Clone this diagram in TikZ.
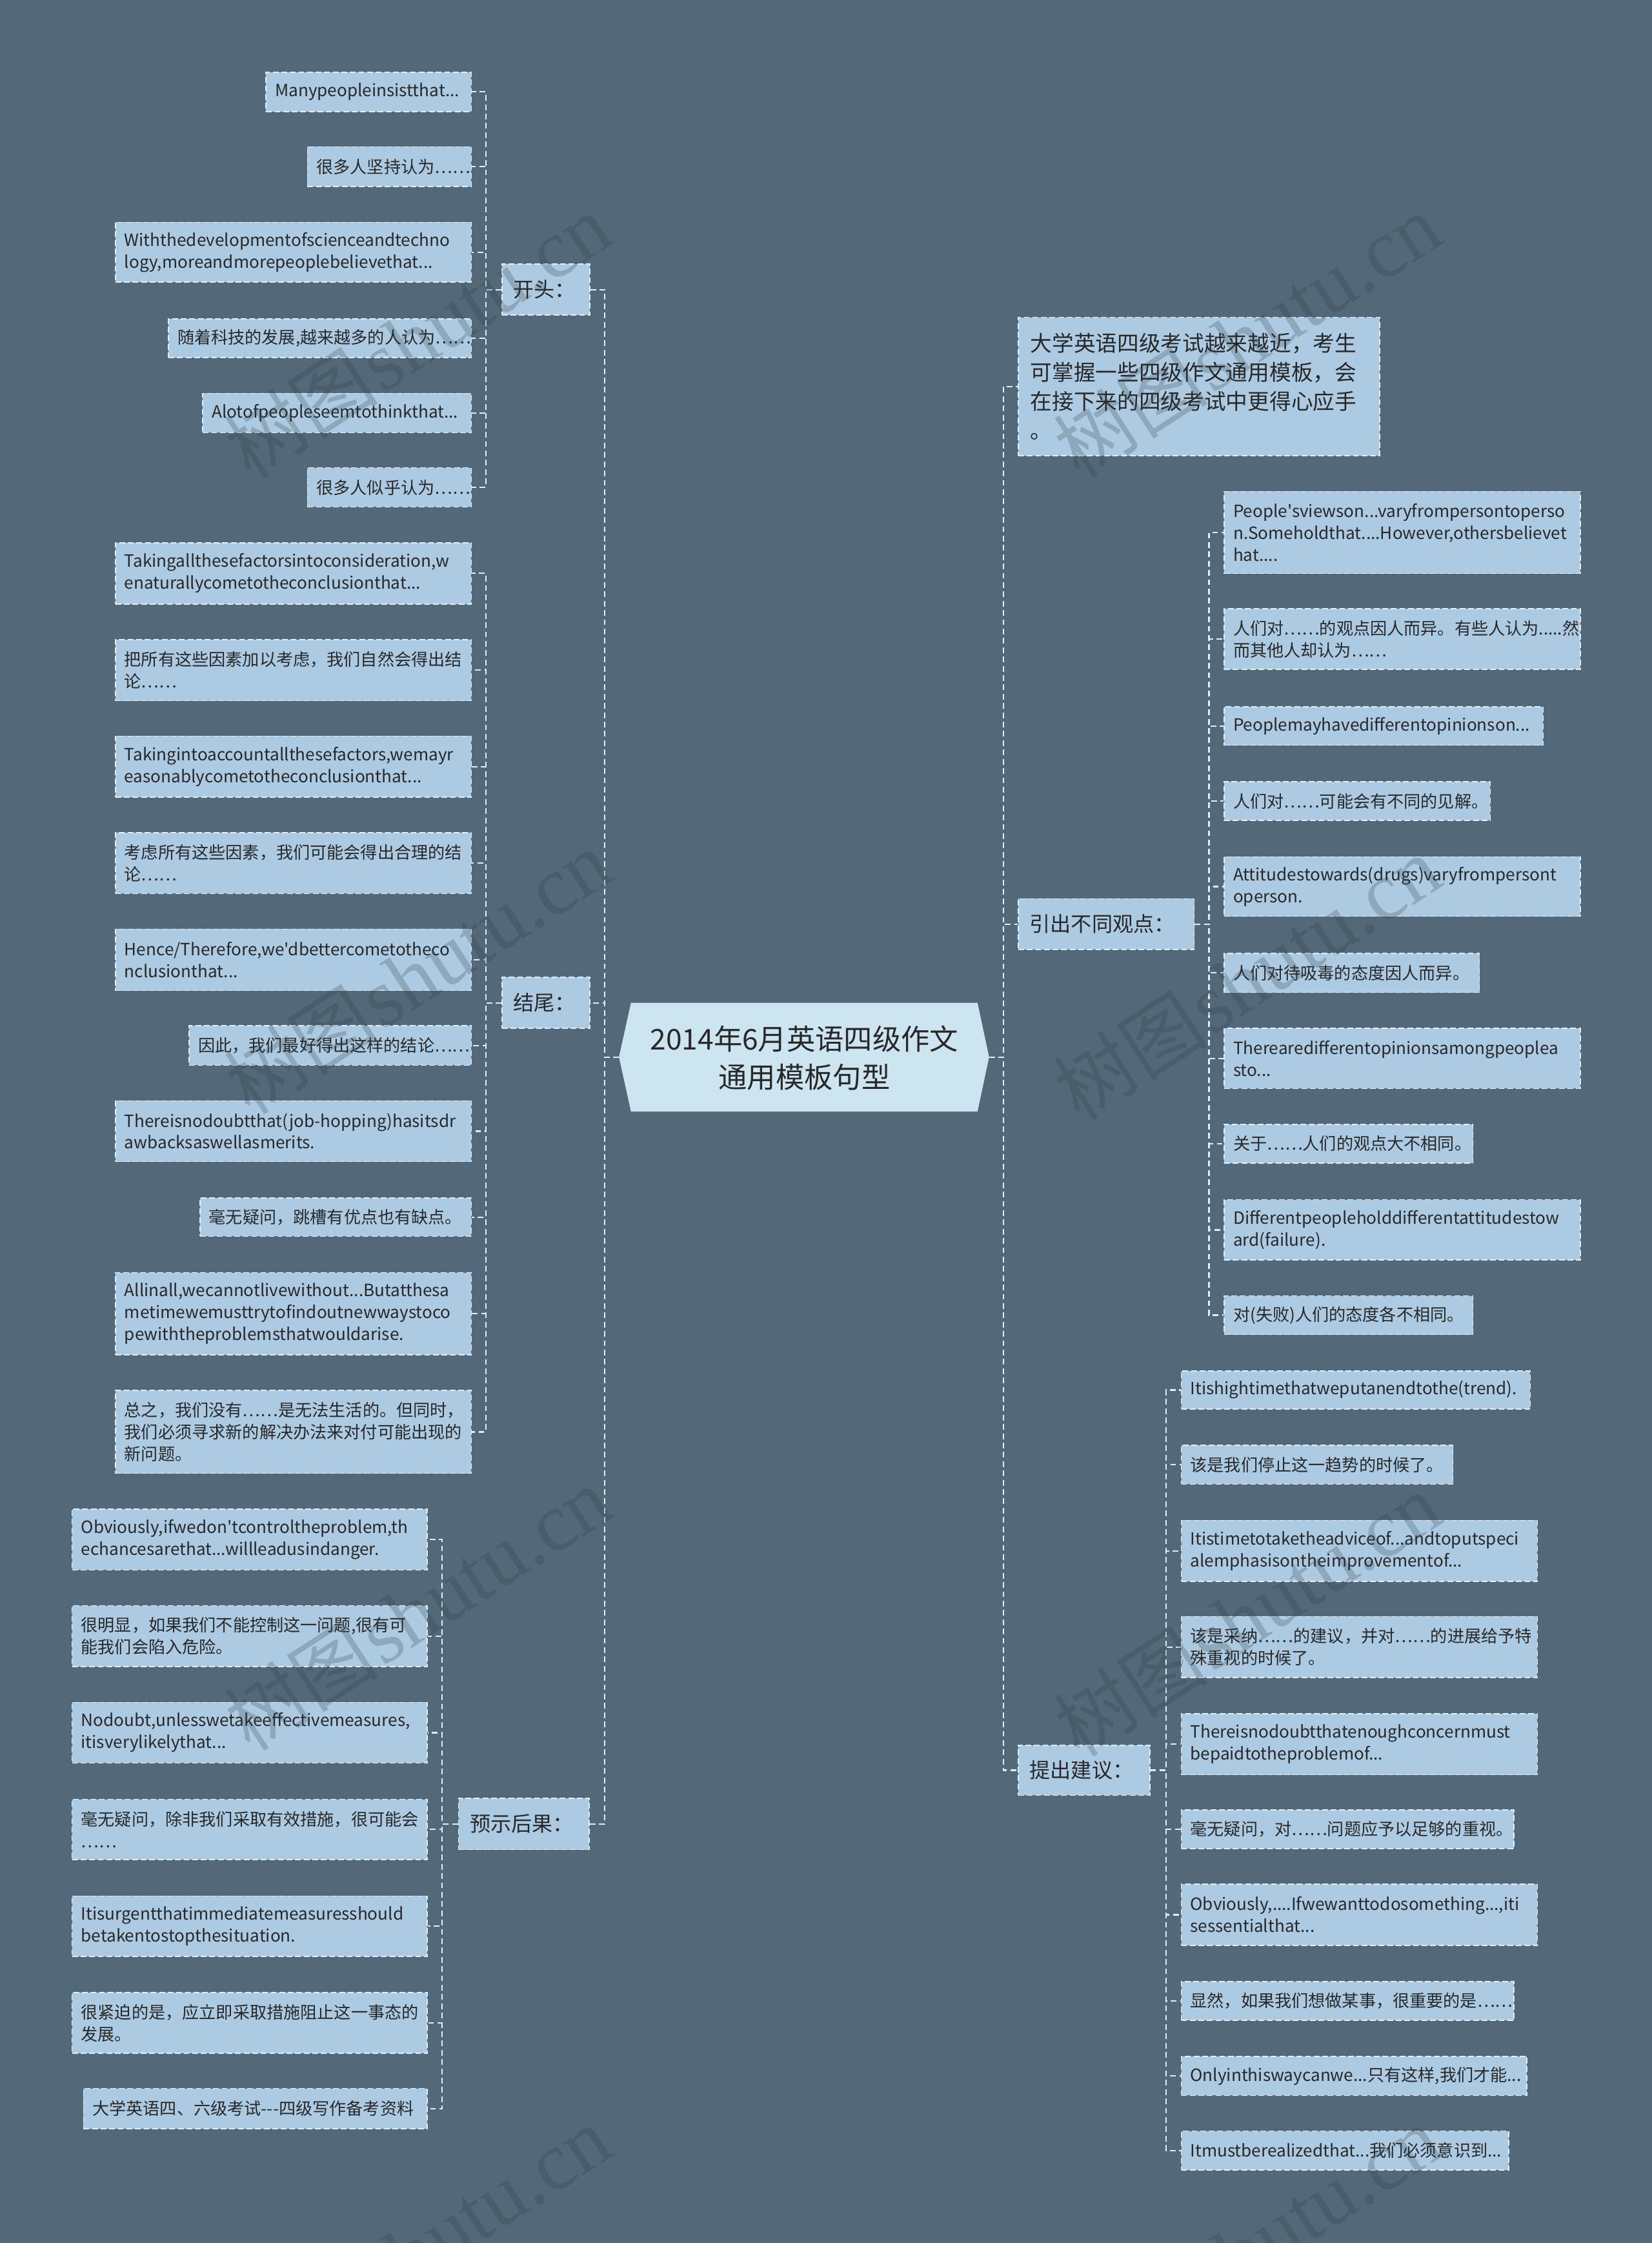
\documentclass[tikz,border=0pt]{standalone}
\usepackage{fontspec}
\setmainfont{Noto Sans CJK SC}[Ligatures=TeXOff]
\newfontfamily\wmlat{Liberation Serif}
\newfontfamily\wmcjk{Noto Sans CJK SC}
\definecolor{bg}{RGB}{83,104,120}
\definecolor{lf}{RGB}{172,203,226}
\definecolor{ctr}{RGB}{205,229,241}
\definecolor{bd}{RGB}{225,238,245}
\definecolor{tx}{RGB}{40,40,40}
\definecolor{wm}{RGB}{50,62,72}
\hyphenpenalty=10000
\exhyphenpenalty=10000
\tikzset{
  leaf/.style={draw=bd, fill=lf, line width=0.7pt, dash pattern=on 4pt off 2pt,
    inner ysep=0pt, align=left, text=tx, font=\fontsize{11.8}{15.3}\selectfont},
  branch/.style={leaf, font=\fontsize{14.5}{18}\selectfont},
  intro/.style={leaf, font=\fontsize{15.2}{20.3}\selectfont},
  conn/.style={draw=bd, line width=1pt, dash pattern=on 4pt off 2.5pt},
  wmark/.style={text=wm, opacity=0.25, rotate=33, inner sep=0pt},
}
% style, pad, name, x1, x2, y1, y2, text
\newcommand\bx[8]{%
  \pgfmathsetmacro\bxW{#5-#4}\pgfmathsetmacro\bxT{#5-#4-2*#2}%
  \pgfmathsetmacro\bxH{#7-#6}\pgfmathsetmacro\bxX{(#4+#5)/2}\pgfmathsetmacro\bxY{(#6+#7)/2}%
  \node[#1, inner xsep=#2pt, minimum width=\bxW pt, minimum height=\bxH pt, text width=\bxT pt] (#3) at (\bxX,\bxY) {#8};}
\begin{document}
\begin{tikzpicture}[x=1pt,y=-1pt]
\useasboundingbox (0,0) rectangle (1155,1568);
\fill[bg] (0,0) rectangle (1155,1568);

% root
\fill[ctr] (441.2,701) -- (683.5,701) -- (691.6,739) -- (683.5,777) -- (441.2,777) -- (432.8,739) -- cycle;
\node[font=\fontsize{20}{26.5}\selectfont, text=tx, align=center] (root) at (562.4,739.5) {2014年6月英语四级作文\\通用模板句型};
\coordinate (rootW) at (432.8,739);
\coordinate (rootE) at (691.6,739);

% branches
\bx{branch}{8}{kt}{351}{412.5}{184.6}{220.3}{开头：}
\bx{branch}{8}{jw}{351}{412.5}{683.2}{718.9}{结尾：}
\bx{branch}{8}{ys}{320.6}{412}{1257}{1293}{预示后果：}
\bx{branch}{8}{yc}{712}{835}{628.3}{663.7}{引出不同观点：}
\bx{branch}{8}{jy}{712}{804}{1220}{1255}{提出建议：}
\bx{intro}{8.5}{intro}{712}{964.6}{221.8}{318.5}{大学英语四级考试越来越近，考生\\可掌握一些四级作文通用模板，会\\在接下来的四级考试中更得心应手\\。}

% 开头
\bx{leaf}{6.3}{k1}{186}{329.6}{50.5}{78}{Manypeopleinsistthat...}
\bx{leaf}{6.3}{k2}{215}{329.6}{102.6}{130.3}{很多人坚持认为……}
\bx{leaf}{6.3}{k3}{80.7}{329.6}{155.4}{197.3}{Withthedevelopmentofscienceandtechno\\logy,moreandmorepeoplebelievethat...}
\bx{leaf}{6.3}{k4}{117.8}{329.6}{223}{250}{随着科技的发展,越来越多的人认为……}
\bx{leaf}{6.3}{k5}{141.8}{329.6}{275}{302.5}{Alotofpeopleseemtothinkthat...}
\bx{leaf}{6.3}{k6}{215}{329.6}{327}{354.4}{很多人似乎认为……}

% 结尾
\bx{leaf}{6.3}{j1}{80.7}{329.6}{379.4}{422.3}{Takingallthesefactorsintoconsideration,w\\enaturallycometotheconclusionthat...}
\bx{leaf}{6.3}{j2}{80.7}{329.6}{447.1}{489.8}{把所有这些因素加以考虑，我们自然会得出结\\论……}
\bx{leaf}{6.3}{j3}{80.7}{329.6}{514.6}{557.3}{Takingintoaccountallthesefactors,wemayr\\easonablycometotheconclusionthat...}
\bx{leaf}{6.3}{j4}{80.7}{329.6}{582}{624.7}{考虑所有这些因素，我们可能会得出合理的结\\论……}
\bx{leaf}{6.3}{j5}{80.7}{329.6}{649.5}{692.4}{Hence/Therefore,we'dbettercometotheco\\nclusionthat...}
\bx{leaf}{6.3}{j6}{132.3}{329.6}{717}{744.7}{因此，我们最好得出这样的结论……}
\bx{leaf}{6.3}{j7}{80.7}{329.6}{769.5}{812}{Thereisnodoubtthat(job-hopping)hasitsdr\\awbacksaswellasmerits.}
\bx{leaf}{6.3}{j8}{139.8}{329.6}{837.4}{864.3}{毫无疑问，跳槽有优点也有缺点。}
\bx{leaf}{6.3}{j9}{80.7}{329.6}{889.6}{947.2}{Allinall,wecannotlivewithout...Butatthesa\\metimewemusttrytofindoutnewwaystoco\\pewiththeproblemsthatwouldarise.}
\bx{leaf}{6.3}{j10}{80.7}{329.6}{972}{1030}{总之，我们没有……是无法生活的。但同时，\\我们必须寻求新的解决办法来对付可能出现的\\新问题。}

% 预示后果
\bx{leaf}{6.3}{y1}{50.4}{298.7}{1055}{1097.5}{Obviously,ifwedon'tcontroltheproblem,th\\echancesarethat...willleadusindanger.}
\bx{leaf}{6.3}{y2}{50.4}{298.7}{1122.5}{1165}{很明显，如果我们不能控制这一问题,很有可\\能我们会陷入危险。}
\bx{leaf}{6.3}{y3}{50.4}{298.7}{1190}{1232.5}{Nodoubt,unlesswetakeeffectivemeasures,\\itisverylikelythat...}
\bx{leaf}{6.3}{y4}{50.4}{298.7}{1257.8}{1300}{毫无疑问，除非我们采取有效措施，很可能会\\……}
\bx{leaf}{6.3}{y5}{50.4}{298.7}{1325.4}{1367.7}{Itisurgentthatimmediatemeasuresshould\\betakentostopthesituation.}
\bx{leaf}{6.3}{y6}{50.4}{298.7}{1393}{1435.3}{很紧迫的是，应立即采取措施阻止这一事态的\\发展。}
\bx{leaf}{6.3}{y7}{58.4}{298.7}{1460}{1488}{大学英语四、六级考试---四级写作备考资料}

% 引出不同观点
\bx{leaf}{6.3}{r1}{856}{1105}{343.6}{401}{People'sviewson...varyfrompersontoperso\\n.Someholdthat....However,othersbelievet\\hat....}
\bx{leaf}{6.3}{r2}{856}{1105}{425.5}{468}{人们对……的观点因人而异。有些人认为.....然\\而其他人却认为……}
\bx{leaf}{6.3}{r3}{856}{1079}{494}{521}{Peoplemayhavedifferentopinionson...}
\bx{leaf}{6.3}{r4}{856}{1042}{546.5}{573.6}{人们对……可能会有不同的见解。}
\bx{leaf}{6.3}{r5}{856}{1105}{598.9}{640.6}{Attitudestowards(drugs)varyfrompersont\\operson.}
\bx{leaf}{6.3}{r6}{856}{1034.5}{666.5}{693.8}{人们对待吸毒的态度因人而异。}
\bx{leaf}{6.3}{r7}{856}{1105}{718.9}{760.9}{Therearedifferentopinionsamongpeoplea\\sto...}
\bx{leaf}{6.3}{r8}{856}{1030}{785.9}{813.2}{关于……人们的观点大不相同。}
\bx{leaf}{6.3}{r9}{856}{1105}{838.6}{880.9}{Differentpeopleholddifferentattitudestow\\ard(failure).}
\bx{leaf}{6.3}{r10}{856}{1030}{905.9}{932.9}{对(失败)人们的态度各不相同。}

% 提出建议
\bx{leaf}{6.3}{s1}{826}{1070}{958.3}{985.1}{Itishightimethatweputanendtothe(trend).}
\bx{leaf}{6.3}{s2}{826}{1016}{1010.4}{1037.5}{该是我们停止这一趋势的时候了。}
\bx{leaf}{6.3}{s3}{826}{1075}{1062.8}{1105.5}{Itistimetotaketheadviceof...andtoputspeci\\alemphasisontheimprovementof...}
\bx{leaf}{6.3}{s4}{826}{1075}{1130}{1172.7}{该是采纳……的建议，并对……的进展给予特\\殊重视的时候了。}
\bx{leaf}{6.3}{s5}{826}{1075}{1198}{1240.7}{Thereisnodoubtthatenoughconcernmust\\bepaidtotheproblemof...}
\bx{leaf}{6.3}{s6}{826}{1058.6}{1265.2}{1292.4}{毫无疑问，对……问题应予以足够的重视。}
\bx{leaf}{6.3}{s7}{826}{1075}{1317.2}{1359.9}{Obviously,....Ifwewanttodosomething...,iti\\sessentialthat...}
\bx{leaf}{6.3}{s8}{826}{1058.6}{1385.2}{1412.4}{显然，如果我们想做某事，很重要的是……}
\bx{leaf}{6.3}{s9}{826}{1067.7}{1437.6}{1464.8}{Onlyinthiswaycanwe...只有这样,我们才能...}
\bx{leaf}{6.3}{s10}{826}{1055}{1489.7}{1516.9}{Itmustberealizedthat...我们必须意识到...}

% connectors
\foreach \c in {kt,jw,ys} \draw[conn] (rootW) -- ++(-10,0) |- (\c.east);
\foreach \c in {intro,yc,jy} \draw[conn] (rootE) -- ++(10,0) |- (\c.west);
\foreach \i in {1,...,6} \draw[conn] (kt.west) -- ++(-11,0) |- (k\i.east);
\foreach \i in {1,...,10} \draw[conn] (jw.west) -- ++(-11,0) |- (j\i.east);
\foreach \i in {1,...,7} \draw[conn] (ys.west) -- ++(-11,0) |- (y\i.east);
\foreach \i in {1,...,10} \draw[conn] (yc.east) -- ++(10,0) |- (r\i.west);
\foreach \i in {1,...,10} \draw[conn] (jy.east) -- ++(11,0) |- (s\i.west);

% watermarks
\foreach \px/\py [count=\n] in {292/235, 872/235, 292/680, 872/684, 292/1125, 872/1129, 292/1572, 872/1572}
  \node[wmark] (wm\n) at (\px,\py) {{\wmcjk\fontsize{54}{54}\selectfont 树图} {\wmlat\fontsize{58}{58}\selectfont shutu.cn}};
\end{tikzpicture}
\end{document}
